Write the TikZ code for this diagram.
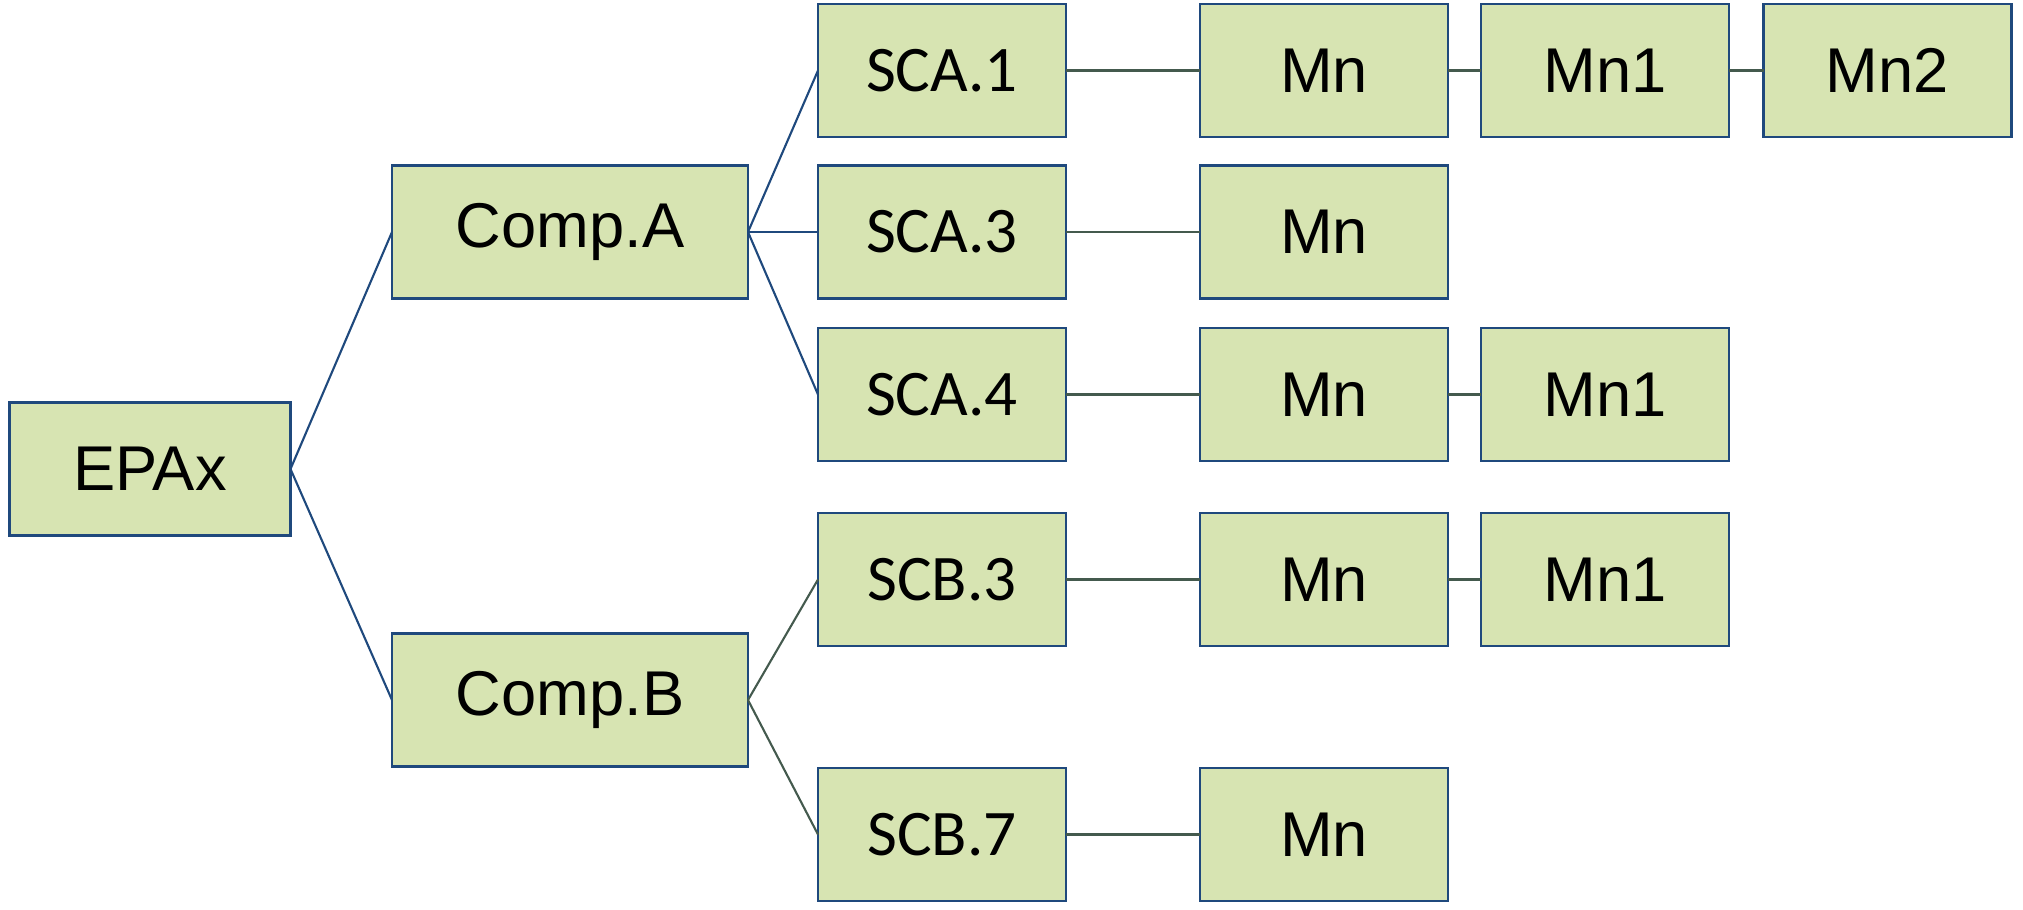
\documentclass[tikz,border=0pt]{standalone}
\usepackage{fontspec}
\newfontfamily\arialfont{Liberation Sans}
\newfontfamily\calibrifont{Carlito}
\usepackage{tikz}
\usepackage{xcolor}
\definecolor{boxfill}{RGB}{215,228,178}
\definecolor{boxline}{RGB}{31,73,125}
\definecolor{linkgray}{RGB}{68,90,78}

\begin{document}
\begin{tikzpicture}[
    box/.style={draw=boxline, line width=0.7pt, fill=boxfill, inner sep=0pt, outer sep=0pt,
                minimum height=1.33cm, text=black, font=\arialfont\fontsize{18}{21}\selectfont},
    subbox/.style={box, minimum width=2.48cm, font=\calibrifont\fontsize{18.5}{21}\selectfont},
    mbox/.style={box, minimum width=2.48cm},
    bluelink/.style={boxline, line width=0.6pt},
    graylink/.style={linkgray, line width=0.6pt}
]
    \useasboundingbox (0,0) rectangle (20.23,-9.09);

    % 根节点
    \node[box, minimum width=2.81cm] (epa) at (1.50,-4.69) {EPAx};

    % 组件
    \node[box, minimum width=3.56cm] (compa) at (5.70,-2.32) {Comp.A};
    \node[box, minimum width=3.56cm] (compb) at (5.70,-7.00) {Comp.B};

    % 子组件
    \node[subbox] (sca1) at (9.42,-0.705) {SCA.1};
    \node[subbox] (sca3) at (9.42,-2.32) {SCA.3};
    \node[subbox] (sca4) at (9.42,-3.945) {SCA.4};
    \node[subbox] (scb3) at (9.42,-5.795) {SCB.3};
    \node[subbox] (scb7) at (9.42,-8.345) {SCB.7};

    % Mn 列
    \node[mbox] (mna1) at (13.24,-0.705) {Mn};
    \node[mbox] (mna3) at (13.24,-2.32) {Mn};
    \node[mbox] (mna4) at (13.24,-3.945) {Mn};
    \node[mbox] (mnb3) at (13.24,-5.795) {Mn};
    \node[mbox] (mnb7) at (13.24,-8.345) {Mn};

    \node[mbox] (mnia1) at (16.05,-0.705) {Mn1};
    \node[mbox] (mnia4) at (16.05,-3.945) {Mn1};
    \node[mbox] (mnib3) at (16.05,-5.795) {Mn1};

    \node[mbox] (mniia1) at (18.875,-0.705) {Mn2};

    % 连线
    \draw[bluelink] (epa.east) -- (compa.west);
    \draw[bluelink] (epa.east) -- (compb.west);
    \draw[bluelink] (compa.east) -- (sca1.west);
    \draw[bluelink] (compa.east) -- (sca3.west);
    \draw[bluelink] (compa.east) -- (sca4.west);
    \draw[graylink] (compb.east) -- (scb3.west);
    \draw[graylink] (compb.east) -- (scb7.west);

    \draw[graylink] (sca1) -- (mna1);
    \draw[graylink] (sca3) -- (mna3);
    \draw[graylink] (sca4) -- (mna4);
    \draw[graylink] (scb3) -- (mnb3);
    \draw[graylink] (scb7) -- (mnb7);
    \draw[graylink] (mna1) -- (mnia1);
    \draw[graylink] (mnia1) -- (mniia1);
    \draw[graylink] (mna4) -- (mnia4);
    \draw[graylink] (mnb3) -- (mnib3);
\end{tikzpicture}
\end{document}
